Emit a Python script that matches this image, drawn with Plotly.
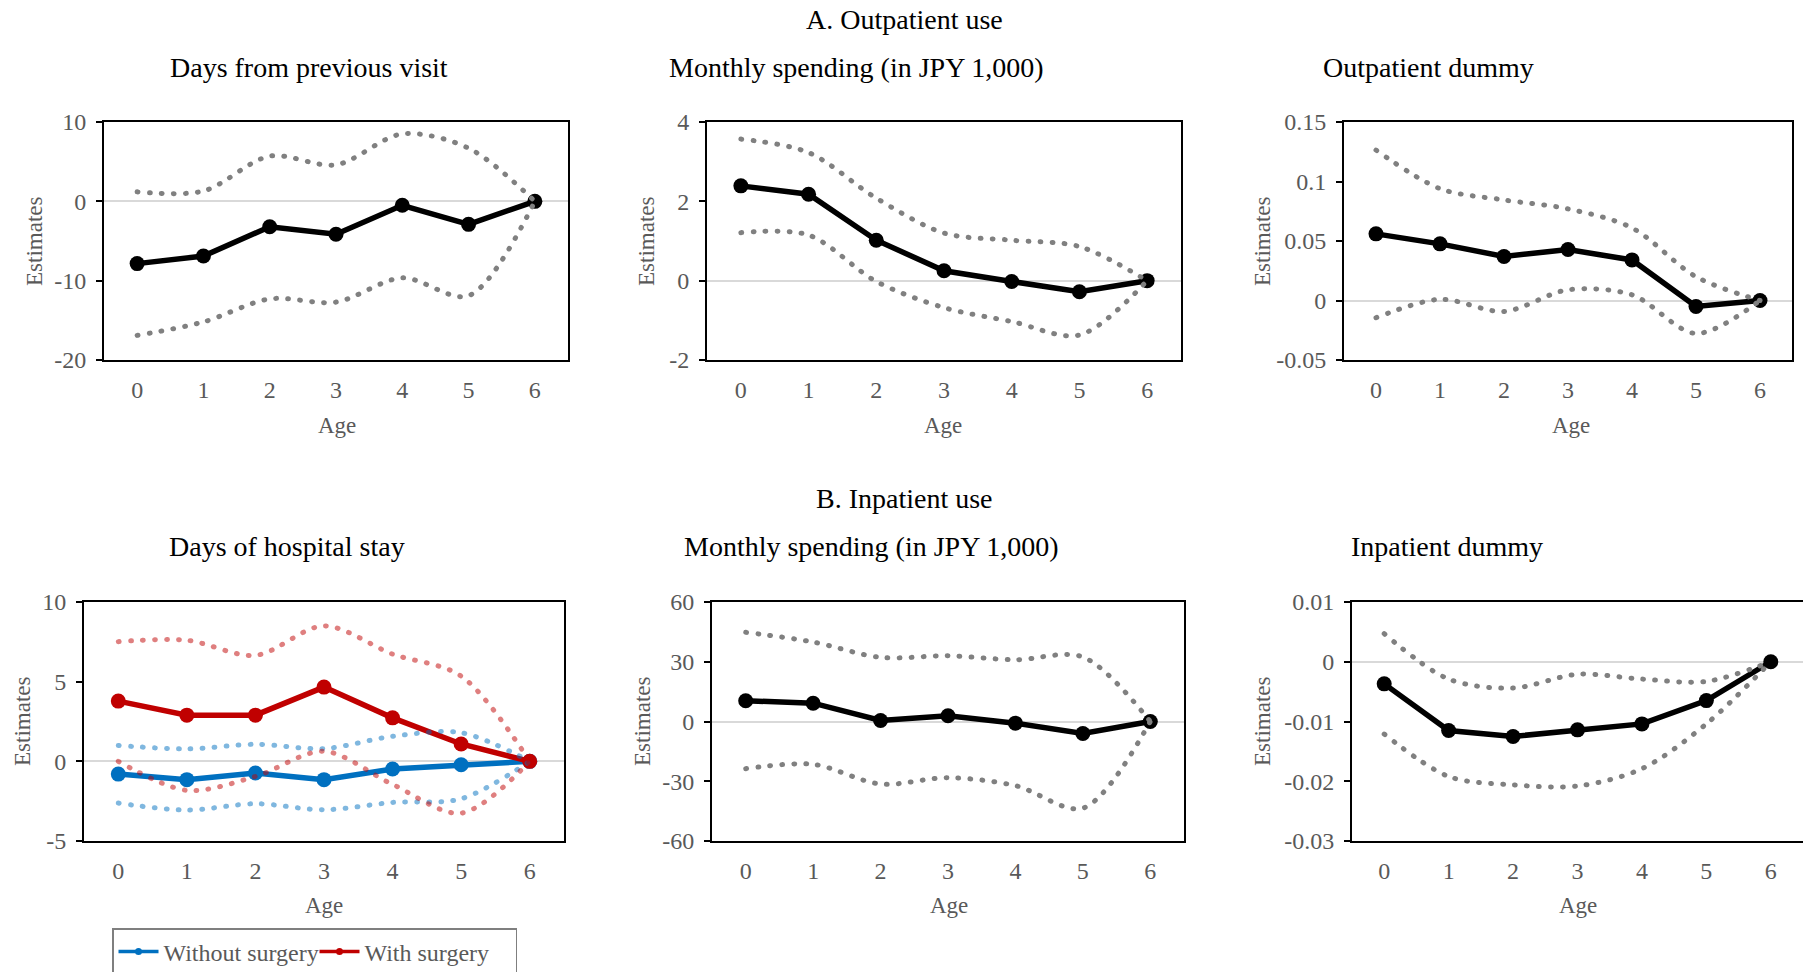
import plotly.graph_objects as go

W, H = 1803, 972

ages = [0, 1, 2, 3, 4, 5, 6]
age_labels = ["0", "1", "2", "3", "4", "5", "6"]

# Panel A1: Days from previous visit
p1_est = [-7.85, -6.9, -3.2, -4.15, -0.5, -2.9, 0]
p1_hi = [1.2, 1.3, 5.7, 4.6, 8.5, 6.7, 0]
p1_lo = [-16.9, -15.2, -12.3, -12.7, -9.65, -11.9, 0]
p1_ticks = [-20, -10, 0, 10]
p1_ticktext = ["-20", "-10", "0", "10"]

# Panel A2: Monthly spending (outpatient)
p2_est = [2.39, 2.18, 1.02, 0.25, -0.02, -0.28, 0]
p2_hi = [3.57, 3.23, 2.08, 1.2, 1.02, 0.86, 0]
p2_lo = [1.21, 1.15, -0.02, -0.68, -1.03, -1.37, 0]
p2_ticks = [-2, 0, 2, 4]
p2_ticktext = ["-2", "0", "2", "4"]

# Panel A3: Outpatient dummy
p3_est = [0.056, 0.0476, 0.037, 0.0428, 0.0341, -0.005, 0]
p3_hi = [0.1264, 0.094, 0.0845, 0.077, 0.061, 0.02, 0]
p3_lo = [-0.0145, 0.001, -0.0092, 0.009, 0.0048, -0.0277, 0]
p3_ticks = [-0.05, 0, 0.05, 0.1, 0.15]
p3_ticktext = ["-0.05", "0", "0.05", "0.1", "0.15"]

# Panel B1: Days of hospital stay
red_est = [3.78, 2.9, 2.9, 4.66, 2.73, 1.09, 0]
red_hi = [7.51, 7.6, 6.65, 8.5, 6.73, 5.35, 0]
red_lo = [0.0, -1.82, -0.95, 0.63, -1.45, -3.25, 0]
blue_est = [-0.8, -1.15, -0.73, -1.15, -0.48, -0.21, 0]
blue_hi = [1.0, 0.78, 1.07, 0.8, 1.57, 1.8, 0]
blue_lo = [-2.62, -3.06, -2.66, -3.04, -2.58, -2.35, 0]
p4_ticks = [-5, 0, 5, 10]
p4_ticktext = ["-5", "0", "5", "10"]

# Panel B2: Monthly spending (inpatient)
p5_est = [10.4, 9.2, 0.5, 2.85, -0.84, -6.0, 0]
p5_hi = [44.8, 39.9, 32.2, 33.0, 31.0, 32.4, 0]
p5_lo = [-23.7, -21.5, -31.4, -28.2, -32.2, -43.5, 0]
p5_ticks = [-60, -30, 0, 30, 60]
p5_ticktext = ["-60", "-30", "0", "30", "60"]

# Panel B3: Inpatient dummy
p6_est = [-0.0037, -0.0115, -0.0125, -0.0114, -0.0104, -0.0065, 0]
p6_hi = [0.0047, -0.0029, -0.0044, -0.0021, -0.0029, -0.0033, 0]
p6_lo = [-0.0121, -0.0192, -0.0206, -0.0208, -0.0179, -0.0104, 0]
p6_ticks = [-0.03, -0.02, -0.01, 0, 0.01]
p6_ticktext = ["-0.03", "-0.02", "-0.01", "0", "0.01"]

section_titles = ["A. Outpatient use", "B. Inpatient use"]
panel_titles = ["Days from previous visit", "Monthly spending (in JPY 1,000)", "Outpatient dummy",
                "Days of hospital stay", "Monthly spending (in JPY 1,000)", "Inpatient dummy"]
legend_names = ["Without surgery", "With surgery"]

FONT = "Liberation Serif, Times New Roman, serif"
GRAY_TXT = "#595959"
CI_GRAY = "#808080"
BLUE = "#0070C0"
RED = "#C00000"
BLUE_CI = "rgba(0,112,192,0.5)"
RED_CI = "rgba(192,0,0,0.5)"
DOT = "0.8px,11.2px"
LW = 5.5
MS = 15
TICKFS = 24

# panel geometry in pixels: (left, right, top, bottom)
geom = [
    (104, 568, 122, 360),
    (707, 1181, 122, 360),
    (1344, 1792, 122, 360),
    (84, 564, 602, 841),
    (712, 1184, 602, 841),
    (1352, 1803, 602, 841),
]
yranges = [(-20, 10), (-2, 4), (-0.05, 0.15), (-5, 10), (-60, 60), (-0.03, 0.01)]
yticks = [(p1_ticks, p1_ticktext), (p2_ticks, p2_ticktext), (p3_ticks, p3_ticktext),
          (p4_ticks, p4_ticktext), (p5_ticks, p5_ticktext), (p6_ticks, p6_ticktext)]

fig = go.Figure()


def add_panel(i, est, hi, lo):
    ax = "" if i == 0 else str(i + 1)
    xa, ya = "x" + ax, "y" + ax
    fig.add_trace(go.Scatter(x=ages, y=est, mode="lines+markers", xaxis=xa, yaxis=ya,
                             line=dict(color="black", width=LW), marker=dict(color="black", size=MS),
                             showlegend=False, hoverinfo="skip"))
    for arr in (hi, lo):
        fig.add_trace(go.Scatter(x=ages, y=arr, mode="lines", xaxis=xa, yaxis=ya,
                                 line=dict(color=CI_GRAY, width=5, dash=DOT, shape="spline",
                                           smoothing=0.9),
                                 showlegend=False, hoverinfo="skip"))


add_panel(0, p1_est, p1_hi, p1_lo)
add_panel(1, p2_est, p2_hi, p2_lo)
add_panel(2, p3_est, p3_hi, p3_lo)
# panel 4: two series
for est, cc in ((blue_est, BLUE), (red_est, RED)):
    fig.add_trace(go.Scatter(x=ages, y=est, mode="lines+markers", xaxis="x4", yaxis="y4",
                             line=dict(color=cc, width=LW), marker=dict(color=cc, size=MS),
                             showlegend=False, hoverinfo="skip"))
for arr, cc in ((blue_hi, BLUE_CI), (blue_lo, BLUE_CI), (red_hi, RED_CI), (red_lo, RED_CI)):
    fig.add_trace(go.Scatter(x=ages, y=arr, mode="lines", xaxis="x4", yaxis="y4",
                             line=dict(color=cc, width=5, dash=DOT, shape="spline", smoothing=0.9),
                             showlegend=False, hoverinfo="skip"))
# legend entries (thin line with small marker, as in the source legend)
for nm, cc in zip(legend_names, (BLUE, RED)):
    fig.add_trace(go.Scatter(x=[None], y=[None], mode="lines+markers", xaxis="x4", yaxis="y4",
                             line=dict(color=cc, width=3.5), marker=dict(color=cc, size=7),
                             name=nm, showlegend=True, hoverinfo="skip"))
add_panel(4, p5_est, p5_hi, p5_lo)
add_panel(5, p6_est, p6_hi, p6_lo)

layout = dict(width=W, height=H, margin=dict(l=0, r=0, t=0, b=0, pad=0, autoexpand=False),
              paper_bgcolor="white", plot_bgcolor="white",
              font=dict(family=FONT, size=23, color=GRAY_TXT))

for i, (l, r, t, b) in enumerate(geom):
    ax = "" if i == 0 else str(i + 1)
    layout["xaxis" + ax] = dict(domain=[l / W, min(r / W, 1.0)], range=[-0.5, 6.5],
                                anchor="y" + ax, tickvals=ages, ticktext=age_labels,
                                showgrid=False, zeroline=False, showline=True, linecolor="black",
                                linewidth=2, mirror=True, ticks="", automargin=False,
                                ticklabelstandoff=7,
                                tickfont=dict(family=FONT, size=TICKFS, color=GRAY_TXT),
                                fixedrange=True)
    tv, tt = yticks[i]
    layout["yaxis" + ax] = dict(domain=[1 - b / H, 1 - t / H], range=list(yranges[i]),
                                anchor="x" + ax, tickvals=tv, ticktext=tt, automargin=False,
                                showgrid=False, zeroline=True, zerolinecolor="#d9d9d9",
                                zerolinewidth=2, showline=True, linecolor="black", linewidth=2,
                                mirror=(i != 5), ticks="outside", ticklen=6, tickwidth=2,
                                tickcolor="black", ticklabelstandoff=5,
                                tickfont=dict(family=FONT, size=TICKFS, color=GRAY_TXT),
                                fixedrange=True)

annotations = []


def ann(text, xpx, ypx, size, color="black", angle=0):
    annotations.append(dict(text=text, x=xpx / W, y=1 - ypx / H, xref="paper", yref="paper",
                            xanchor="center", yanchor="middle", showarrow=False, textangle=angle,
                            font=dict(family=FONT, size=size, color=color)))


ann(section_titles[0], 904, 19, 28)
ann(section_titles[1], 904, 498, 28)
title_pos = [(309, 67), (856, 67), (1428, 67), (287, 546), (871, 546), (1447, 546)]
for txt, (x, y) in zip(panel_titles, title_pos):
    ann(txt, x, y, 28)
est_pos = [(34, 242), (646, 242), (1262, 242), (22, 722), (642, 722), (1262, 722)]
age_pos = [(337, 425), (943, 425), (1571, 425), (324, 905), (949, 905), (1578, 905)]
for (x, y) in est_pos:
    ann("Estimates", x, y, 23, GRAY_TXT, -90)
for (x, y) in age_pos:
    ann("Age", x, y, 23, GRAY_TXT)

layout["annotations"] = annotations
layout["legend"] = dict(orientation="h", x=112 / W, y=1 - 928 / H, xanchor="left", yanchor="top",
                        bordercolor="#7f7f7f", borderwidth=1.5, bgcolor="white",
                        entrywidth=146, entrywidthmode="pixels", itemwidth=40,
                        font=dict(family=FONT, size=24, color=GRAY_TXT))
layout["showlegend"] = True
fig.update_layout(**layout)

post = """
document.body.style.margin = '0';
var gd = document.getElementById('{plot_id}');
function rc(){
  gd.querySelectorAll('.scatterlayer path.js-line').forEach(function(p){
    var d = p.style.strokeDasharray;
    if (d && d !== 'none' && d !== '') { p.style.strokeLinecap = 'round'; }
  });
}
rc();
gd.on('plotly_afterplot', rc);
"""
fig.write_html("out.html", post_script=post, config={"displayModeBar": False})
